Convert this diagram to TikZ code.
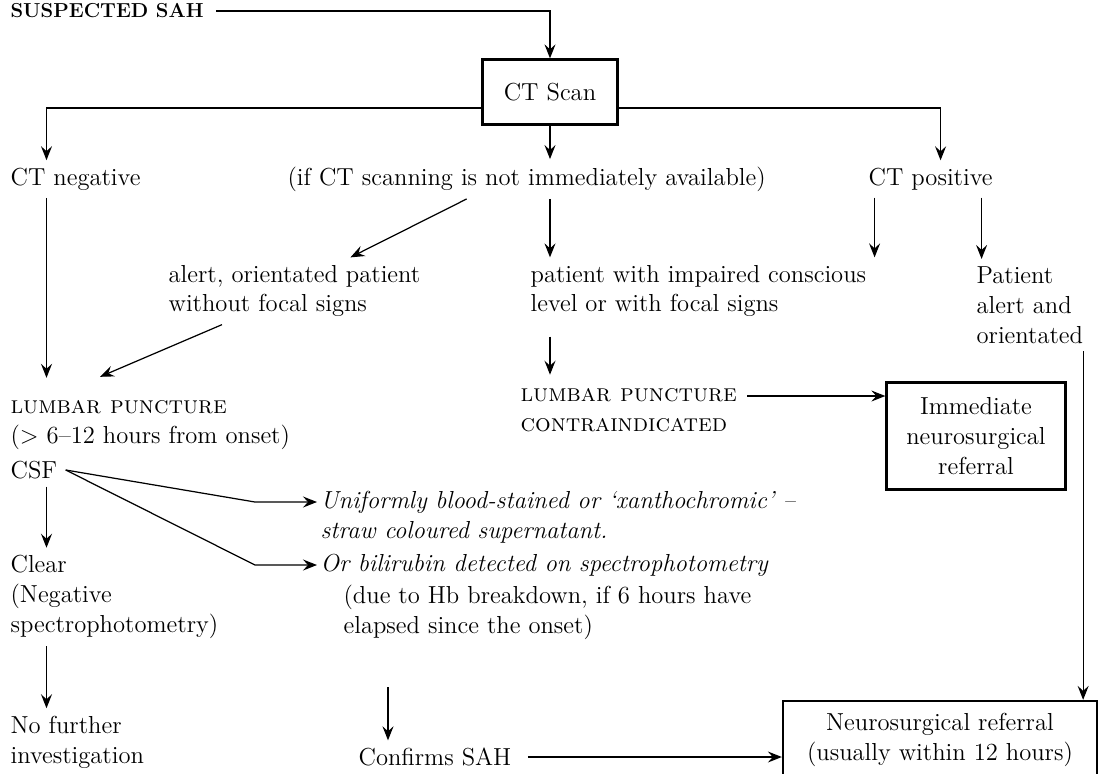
\documentclass[tikz,border=0pt]{standalone}
\usepackage{fontspec}
\usetikzlibrary{arrows.meta}

\begin{document}
\begin{tikzpicture}[line width=.7pt,>={Stealth[length=2.8mm,width=2.2mm,inset=1mm]},
  txt/.style={inner xsep=0pt,inner ysep=4pt,anchor=west,align=left,font=\fontsize{14}{17}\selectfont},
  emtxt/.style={txt,font=\fontsize{14}{17}\selectfont\itshape},
  box/.style={draw,line width=1.3pt,align=center,font=\fontsize{14}{17}\selectfont}]

\useasboundingbox (0,0) rectangle (22.02,-15.46);
\coordinate (lcol) at (0.93,0);
\coordinate (mcol) at (7.76,0);

\node[txt,font=\fontsize{11.5}{13}\selectfont\bfseries] (sah) at (0.2,-0.22) {SUSPECTED SAH};
\node[box,minimum width=2.7cm,minimum height=1.3cm] (ct) at (11,-1.84) {CT Scan};
\node[txt] (ctneg) at (0.2,-3.58) {CT negative};
\node[txt] (notavail) at (5.74,-3.58) {(if CT scanning is not immediately available)};
\node[txt] (ctpos) at (17.36,-3.58) {CT positive};
\node[txt] (alert) at (3.36,-5.82) {alert, orientated patient\\without focal signs};
\node[txt] (impaired) at (10.6,-5.82) {patient with impaired conscious\\level or with focal signs};
\node[txt] (patpos) at (19.52,-6.1) {Patient\\alert and\\orientated};
\node[txt] (lp) at (0.2,-8.5) {\textsc{lumbar puncture}\\(> 6–12 hours from onset)};
\node[txt] (csf) at (0.2,-9.4) {CSF};
\node[txt] (lpcontra) at (10.4,-8.2) {\textsc{lumbar puncture}\\\textsc{contraindicated}};
\node[box,minimum width=3.58cm,minimum height=2.14cm] (immed) at (19.52,-8.72) {Immediate\\neurosurgical\\referral};
\node[emtxt] (blood) at (6.4,-10.34) {Uniformly blood-stained or ‘xanthochromic’ –\\straw coloured supernatant.};
\node[emtxt] (bili) at (6.4,-11.3) {Or bilirubin detected on spectrophotometry};
\node[txt] (hb) at (6.86,-12.25) {(due to Hb breakdown, if 6 hours have\\elapsed since the onset)};
\node[txt] (clear) at (0.2,-11.94) {Clear\\(Negative\\spectrophotometry)};
\node[txt] (nofurther) at (0.2,-14.84) {No further\\investigation};
\node[txt] (confirms) at (7.16,-15.14) {Confirms SAH};
\node[box,minimum width=6.28cm,minimum height=1.56cm] (neuro) at (18.8,-14.8) {Neurosurgical referral\\(usually within 12 hours)};

\draw[->] ([xshift=.24cm]sah.east) -| (ct.north);
\draw[->] ([yshift=-.32cm]ct.west) -| (lcol |- ctneg.north);
\draw[->] (ct.south) -- (ct.south |- notavail.north);
\draw[->] ([yshift=-.32cm]ct.east) -| ([xshift=.2cm]ctpos.north);
\draw[->] ([xshift=-1.2cm]notavail.south) -- ([xshift=1.12cm]alert.north);
\draw[->] (ct.south |- notavail.south) -- (ct.south |- impaired.north);
\coordinate (pl) at ([xshift=-1.12cm]ctpos.south);
\coordinate (pr) at ([xshift=1.02cm]ctpos.south);
\draw[->] (pl) -- (pl |- impaired.north);
\draw[->] (pr) -- (pr |- patpos.north);
\draw[->,shorten >=.3cm] (lcol |- ctneg.south) -- (lcol |- lp.north);
\draw[->] ([xshift=1.08cm]alert.south west) -- ([xshift=1.8cm,yshift=.32cm]lp.north west);
\draw[->,shorten <=.24cm,shorten >=.12cm] (ct.south |- impaired.south) -- (ct.south |- lpcontra.north);
\coordinate (lpend) at ([xshift=.2cm,yshift=.28cm]lpcontra.east);
\draw[->] (lpend) -- (lpend -| immed.west);
\coordinate (rt) at ([xshift=-.3cm]neuro.north east);
\draw[->] (rt |- patpos.south) -- (rt);
\draw[->] ([xshift=.16cm]csf.east) -- ([xshift=-1.3cm,yshift=.3cm]blood.west) -- ([xshift=-.06cm,yshift=.3cm]blood.west);
\draw[->] ([xshift=.16cm]csf.east) -- ([xshift=-1.3cm]bili.west) -- ([xshift=-.06cm]bili.west);
\draw[->] (lcol |- csf.south) -- (lcol |- clear.north);
\draw[->] (lcol |- clear.south) -- (lcol |- nofurther.north);
\draw[->,shorten <=.8cm] (mcol |- hb.south) -- (mcol |- confirms.north);
\draw[->] ([xshift=.32cm]confirms.east) -- (confirms.east -| neuro.west);

\end{tikzpicture}
\end{document}
